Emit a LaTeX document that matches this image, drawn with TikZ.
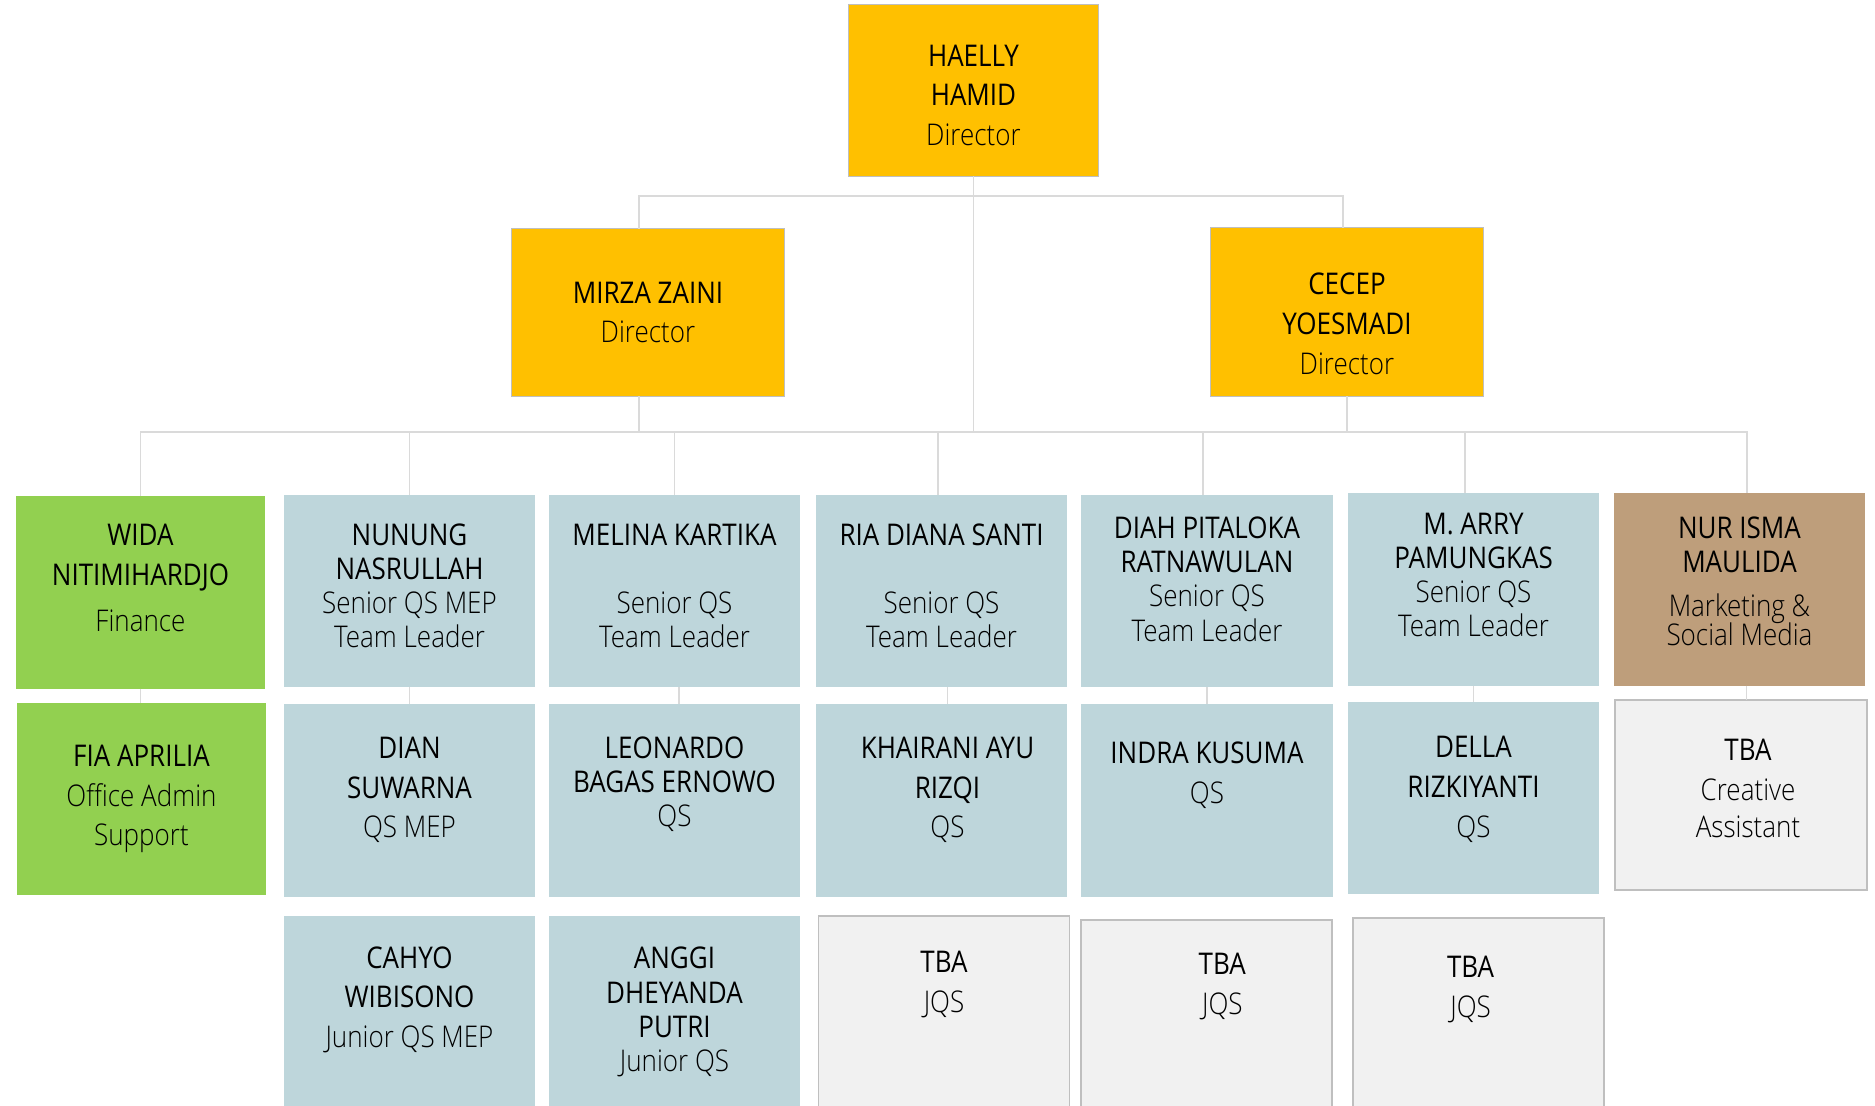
\documentclass[tikz,border=0pt]{standalone}
\usepackage{fontspec}
\setmainfont{Open Sans}[FakeStretch=0.87]
\newfontfamily\rolefont{Open Sans Light}[FakeStretch=0.87]

\definecolor{gold}{HTML}{FFC000}
\definecolor{leaf}{HTML}{92D050}
\definecolor{steel}{HTML}{BED6DB}
\definecolor{sand}{HTML}{BE9E7B}
\definecolor{mist}{HTML}{F1F1F1}
\definecolor{wire}{HTML}{DADADA}
\definecolor{edge}{HTML}{BFBFBF}

\newcommand{\role}[1]{{\rolefont #1}}
\newcommand{\gap}[1]{\\[#1]\mbox{}}

\tikzset{
	box/.style={rectangle, inner sep=0pt, outer sep=0pt, align=center,
		minimum width=2.51cm, minimum height=1.92cm,
		font=\fontsize{8.5}{11.3}\selectfont},
	tight/.style={font=\fontsize{8.5}{9.7}\selectfont},
	director/.style={box, fill=gold, draw=edge, line width=0.3pt},
	staff/.style={box, fill=steel},
	admin/.style={box, fill=leaf},
	media/.style={box, fill=sand},
	vacant/.style={box, fill=mist, draw=edge, line width=0.5pt},
	link/.style={draw=wire, line width=0.4pt},
}

\begin{document}
\begin{tikzpicture}[x=0.01cm, y=-0.01cm]

	\useasboundingbox (0,0) rectangle (1875,1105);
	\clip (0,0) rectangle (1875,1105);

	% Directors
	\node[director, minimum width=2.49cm, minimum height=1.71cm] (haelly) at (973.5,90.5) {\mbox{}\\[-2.5pt]HAELLY\\HAMID\\\role{Director}};
	\node[director, minimum width=2.72cm, minimum height=1.67cm] (mirza) at (648,312.5) {MIRZA ZAINI\\\role{Director}};
	\node[director, minimum width=2.72cm, minimum height=1.68cm] (cecep) at (1347,312) {\mbox{}\\[1.5pt]CECEP\\YOESMADI\\\role{Director}};

	% Team leaders and support
	\node[admin, minimum width=2.49cm] (wida) at (140.5,592.5) {WIDA\\NITIMIHARDJO\\[1.8pt]\role{Finance}\gap{-2.8pt}};
	\node[staff, tight] (nunung) at (409.5,591) {NUNUNG\\NASRULLAH\\\role{Senior QS MEP}\\\role{Team Leader}\gap{-6.6pt}};
	\node[staff, tight] (melina) at (674.5,591) {MELINA KARTIKA\\[9.7pt]\role{Senior QS}\\\role{Team Leader}\gap{-6.6pt}};
	\node[staff, tight] (ria) at (941.5,591) {RIA DIANA SANTI\\[9.7pt]\role{Senior QS}\\\role{Team Leader}\gap{-6.6pt}};
	\node[staff, tight] (diah) at (1207,591) {DIAH PITALOKA\\RATNAWULAN\\\role{Senior QS}\\\role{Team Leader}\gap{-2.9pt}};
	\node[staff, tight] (arry) at (1473.5,589.5) {M. ARRY\\PAMUNGKAS\\\role{Senior QS}\\\role{Team Leader}\gap{-1.2pt}};
	\node[media, tight] (nur) at (1739.5,589.5) {NUR ISMA\\MAULIDA\\[2.8pt]\role{Marketing \&}\\[-1.7pt]\role{Social Media}\gap{-4.9pt}};

	% Second line
	\node[admin, minimum width=2.49cm] (fia) at (141.5,799) {FIA APRILIA\\\role{Office Admin}\\\role{Support}};
	\node[staff] (dian) at (409.5,800.5) {DIAN\\SUWARNA\\\role{QS MEP}\gap{-3.9pt}};
	\node[staff, tight] (leonardo) at (674.5,800.5) {LEONARDO\\BAGAS ERNOWO\\\role{QS}\gap{1.1pt}};
	\node[staff] (khairani) at (941.5,800.5) {\hspace*{3.4pt}KHAIRANI AYU\\\hspace*{3.4pt}RIZQI\\\hspace*{3.4pt}\role{QS}\gap{-3.9pt}};
	\node[staff] (indra) at (1207,800.5) {INDRA KUSUMA\\\role{QS}\gap{4.6pt}};
	\node[staff] (della) at (1473.5,798) {DELLA\\RIZKIYANTI\\\role{QS}\gap{-5pt}};
	\node[vacant, minimum width=2.52cm, minimum height=1.90cm] (tbaca) at (1741,795) {\hspace*{4pt}TBA\\\hspace*{4pt}\role{Creative}\\[-0.8pt]\hspace*{4pt}\role{Assistant}\gap{-7.6pt}};

	% Third line
	\node[staff] (cahyo) at (409.5,1012) {CAHYO\\WIBISONO\\\role{Junior QS MEP}\gap{-2.8pt}};
	\node[staff, tight] (anggi) at (674.5,1012) {ANGGI\\DHEYANDA\\PUTRI\\\role{Junior QS}};
	\node[vacant] (tbaa) at (944,1012) {TBA\\\role{JQS}\gap{5.8pt}};
	\node[vacant] (tbab) at (1206.5,1016) {\hspace*{9pt}TBA\\\hspace*{9pt}\role{JQS}\gap{6.9pt}};
	\node[vacant] (tbac) at (1478.5,1014) {\hspace*{-4.5pt}TBA\\\hspace*{-4.5pt}\role{JQS}\gap{4.1pt}};

	% Connectors
	\coordinate (busA) at (975,196);
	\coordinate (busB) at (975,432);
	\draw[link] (haelly.south) -- (haelly.south |- busB);
	\draw[link] ([xshift=-0.09cm]mirza.north) |- (busA) -| ([xshift=-0.04cm]cecep.north);
	\draw[link] ([xshift=-0.09cm]mirza.south) -- ([xshift=-0.09cm]mirza.south |- busB);
	\draw[link] (cecep.south) -- (cecep.south |- busB);
	\draw[link] (wida.north) |- (busB) -| ([xshift=0.075cm]nur.north);
	\foreach \n/\dx in {nunung/0,melina/0,ria/-0.035,diah/-0.04,arry/-0.085}
		\draw[link] ([xshift=\dx cm]\n.north) -- ([xshift=\dx cm]\n.north |- busB);
	\foreach \a/\b/\dx in {wida/fia/0,nunung/dian/0,melina/leonardo/0.045,ria/khairani/0.06,diah/indra/0,arry/della/0,nur/tbaca/0.07}
		\draw[link] ([xshift=\dx cm]\a.south) -- ([xshift=\dx cm]\a.south |- \b.north);

\end{tikzpicture}
\end{document}
